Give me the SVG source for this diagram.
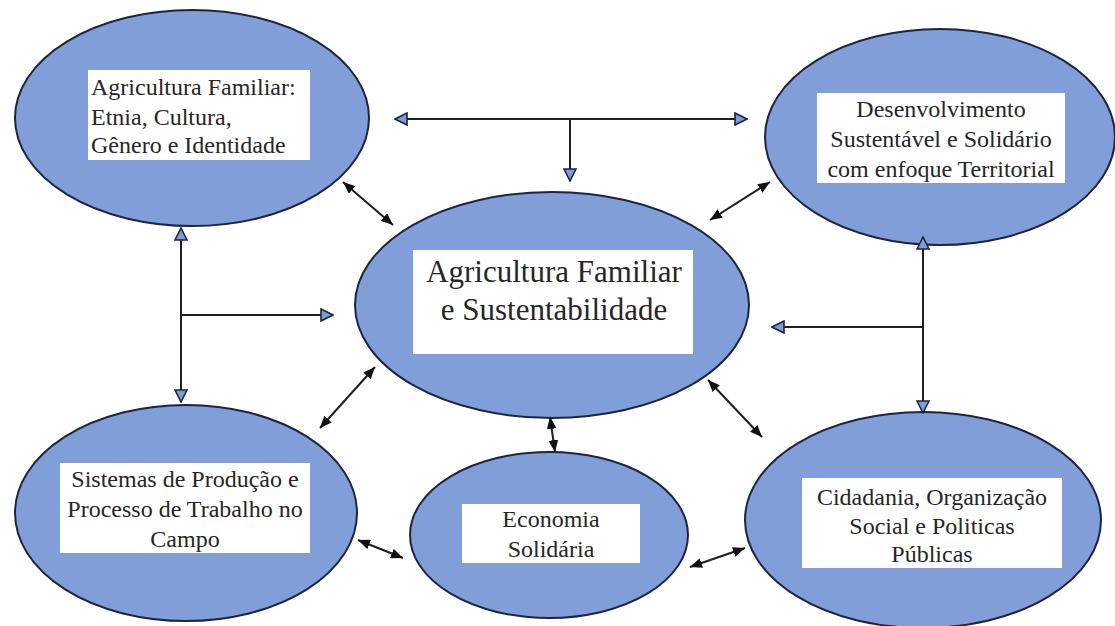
<svg xmlns="http://www.w3.org/2000/svg" width="1115" height="626" viewBox="0 0 1115 626">
<style>
.node ellipse{fill:#829ed8;stroke:#1c2540;stroke-width:2}
.node rect{fill:#ffffff}
.node text{font-family:'Liberation Serif','Times New Roman',serif;font-size:24px;fill:#262626}
.c{text-anchor:middle}
.big text{font-size:31px}
.conn line{stroke:#1e1e1e;stroke-width:2;fill:none}
.blue{marker-end:url(#bh)}
.dbl{marker-start:url(#kh);marker-end:url(#kh)}
</style>
<defs>
<marker id="bh" viewBox="0 0 14 14" refX="13" refY="7" markerWidth="14" markerHeight="14" markerUnits="userSpaceOnUse" orient="auto-start-reverse">
<path d="M1,1 L13,7 L1,13 z" fill="#7f9bd8" stroke="#1c2540" stroke-width="1.6" stroke-linejoin="miter"/>
</marker>
<marker id="kh" viewBox="0 0 12 10" refX="12" refY="5" markerWidth="12" markerHeight="10" markerUnits="userSpaceOnUse" orient="auto-start-reverse">
<path d="M0,0 L12,5 L0,10 z" fill="#111"/>
</marker>
</defs>
<rect width="1115" height="626" fill="#ffffff"/>

<g id="n-identidade" class="node">
<ellipse cx="192" cy="118" rx="177" ry="108"/>
<rect x="88" y="70" width="222" height="90"/>
<text x="91" y="95">Agricultura Familiar:</text>
<text x="91" y="125">Etnia, Cultura,</text>
<text x="91" y="153">Gênero e Identidade</text>
</g>

<g id="n-desenvolvimento" class="node">
<ellipse cx="940" cy="137" rx="175" ry="108"/>
<rect x="817" y="93" width="248" height="90"/>
<text class="c" x="941" y="117">Desenvolvimento</text>
<text class="c" x="941" y="147">Sustentável e Solidário</text>
<text class="c" x="941" y="177">com enfoque Territorial</text>
</g>

<g id="n-central" class="node big">
<ellipse cx="552" cy="305" rx="197" ry="113"/>
<rect x="413" y="250" width="280" height="104"/>
<text class="c" x="554" y="282">Agricultura Familiar</text>
<text class="c" x="554" y="320">e Sustentabilidade</text>
</g>

<g id="n-sistemas" class="node">
<ellipse cx="186" cy="513" rx="171" ry="108"/>
<rect x="60" y="463" width="250" height="90"/>
<text class="c" x="185" y="487">Sistemas de Produção e</text>
<text class="c" x="185" y="517">Processo de Trabalho no</text>
<text class="c" x="185" y="547">Campo</text>
</g>

<g id="n-economia" class="node">
<ellipse cx="549" cy="535" rx="139" ry="83"/>
<rect x="462" y="504" width="178" height="59"/>
<text class="c" x="551" y="527">Economia</text>
<text class="c" x="551" y="557">Solidária</text>
</g>

<g id="n-cidadania" class="node">
<ellipse cx="923" cy="520" rx="178" ry="108"/>
<rect x="802" y="478" width="260" height="90"/>
<text class="c" x="932" y="505">Cidadania, Organização</text>
<text class="c" x="932" y="534">Social e Politicas</text>
<text class="c" x="932" y="562">Públicas</text>
</g>

<g id="connectors" class="conn">
<line class="blue" x1="570" y1="119" x2="395" y2="119"/>
<line class="blue" x1="570" y1="119" x2="747" y2="119"/>
<line class="blue" x1="570" y1="119" x2="570" y2="181"/>
<line class="blue" x1="181" y1="315" x2="181" y2="228"/>
<line class="blue" x1="181" y1="315" x2="181" y2="402"/>
<line class="blue" x1="181" y1="315" x2="333" y2="315"/>
<line class="blue" x1="923" y1="327" x2="923" y2="237"/>
<line class="blue" x1="923" y1="327" x2="923" y2="413"/>
<line class="blue" x1="923" y1="327" x2="772" y2="327"/>
<line class="dbl" x1="343" y1="182" x2="393" y2="225"/>
<line class="dbl" x1="710" y1="220" x2="770" y2="182"/>
<line class="dbl" x1="375" y1="367" x2="320" y2="428"/>
<line class="dbl" x1="708" y1="380" x2="762" y2="437"/>
<line class="dbl" x1="550" y1="417" x2="555" y2="452"/>
<line class="dbl" x1="358" y1="540" x2="403" y2="558"/>
<line class="dbl" x1="690" y1="567" x2="745" y2="548"/>
</g>
</svg>
